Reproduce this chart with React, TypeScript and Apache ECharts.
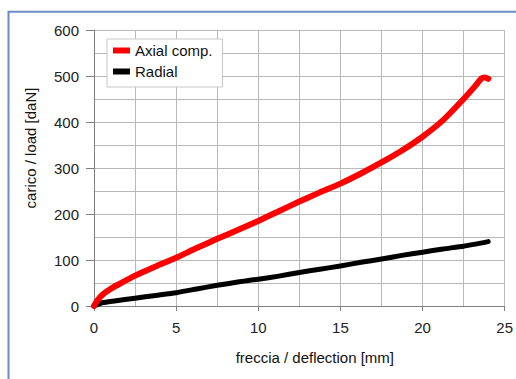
import React, { useEffect, useRef } from "react";
import * as echarts from "echarts";

const seriesNames = ["Axial comp.", "Radial"];
const axialX = [0, 0.2, 0.5, 1, 1.5, 2.5, 3.75, 5, 6.25, 7.5, 8.75, 10, 11.25, 12.5, 13.75, 15, 16.25, 17.5, 18.75, 20, 21.25, 22.5, 23.2, 23.6, 23.8, 24];
const axialY = [0, 12, 24, 37, 47, 66, 86, 105, 126, 146, 165, 185, 206, 227, 247, 266, 288, 312, 338, 368, 404, 450, 478, 495, 497, 494];
const radialX = [0, 0.5, 1.25, 2.5, 3.75, 5, 6.25, 7.5, 8.75, 9.5, 10, 11.25, 12.5, 13.75, 15, 16.25, 17.5, 18.75, 20, 21.25, 22.5, 24];
const radialY = [0, 7, 11, 17, 23, 29, 37, 45, 52, 56, 58, 65, 73, 80, 87, 95, 102, 110, 117, 124, 130, 140];
const xTitle = "freccia / deflection [mm]";
const yTitle = "carico / load [daN]";

export default function App() {
  const ref = useRef<HTMLDivElement>(null);
  useEffect(() => {
    if (!ref.current) return;
    const chart = echarts.init(ref.current, undefined, { renderer: "svg" });
    const font = "'Liberation Sans', Arial, sans-serif";
    chart.setOption({
      animation: false,
      backgroundColor: "#ffffff",
      textStyle: { fontFamily: font },
      grid: { left: 94, right: 11, top: 30, bottom: 73, containLabel: false },
      legend: {
        orient: "vertical",
        left: 107,
        top: 39,
        padding: [4, 10, 8, 6],
        itemGap: 6,
        itemWidth: 17,
        itemHeight: 6,
        icon: "rect",
        backgroundColor: "#ffffff",
        borderColor: "#c8c8c8",
        borderWidth: 1,
        borderRadius: 0,
        textStyle: { fontSize: 15, color: "#111", fontFamily: font },
        data: seriesNames,
      },
      xAxis: {
        type: "value",
        min: 0,
        max: 25,
        interval: 5,
        name: xTitle,
        nameLocation: "middle",
        nameGap: 44,
        nameTextStyle: { fontSize: 15, color: "#111", fontFamily: font, padding: [0, 0, 0, 31] },
        axisLine: { show: true, lineStyle: { color: "#808080", width: 1 } },
        axisTick: { show: true, length: 5, lineStyle: { color: "#808080" } },
        axisLabel: { fontSize: 15, color: "#222", margin: 14, fontFamily: font },
        splitLine: { show: true, lineStyle: { color: "#b8b8b8", width: 1 } },
        minorTick: { show: false, splitNumber: 2 },
        minorSplitLine: { show: true, lineStyle: { color: "#b8b8b8", width: 1 } },
      },
      yAxis: {
        type: "value",
        min: 0,
        max: 600,
        interval: 100,
        axisLine: { show: true, lineStyle: { color: "#808080", width: 1 } },
        axisTick: { show: true, length: 8, lineStyle: { color: "#808080" } },
        axisLabel: { fontSize: 15, color: "#222", margin: 15, fontFamily: font },
        splitLine: { show: true, lineStyle: { color: "#b8b8b8", width: 1 } },
        minorTick: { show: false, splitNumber: 2 },
        minorSplitLine: { show: true, lineStyle: { color: "#b8b8b8", width: 1 } },
      },
      graphic: [
        {
          type: "rect",
          silent: true,
          shape: { x: 8.5, y: 11.7, width: 700, height: 600 },
          style: { fill: "none", stroke: "#6b8cc9", lineWidth: 2 },
          z: 100,
        },
        {
          type: "text",
          x: 30,
          y: 148,
          rotation: Math.PI / 2,
          style: {
            text: yTitle,
            fontSize: 15,
            fontFamily: font,
            fill: "#111",
            align: "center",
            verticalAlign: "middle",
          },
        },
      ],
      series: [
        {
          name: seriesNames[0],
          type: "line",
          data: axialX.map((x, i) => [x, axialY[i]]),
          showSymbol: false,
          smooth: 0.2,
          color: "#ff0000",
          lineStyle: { color: "#ff0000", width: 6, cap: "round", join: "round" },
          z: 3,
        },
        {
          name: seriesNames[1],
          type: "line",
          data: radialX.map((x, i) => [x, radialY[i]]),
          showSymbol: false,
          smooth: 0.2,
          color: "#000000",
          lineStyle: { color: "#000000", width: 5, cap: "round", join: "round" },
          z: 2,
        },
      ],
    });
    return () => chart.dispose();
  }, []);
  return (
    <div
      ref={ref}
      style={{ position: "fixed", left: 0, top: 0, width: 516, height: 379, background: "#fff" }}
    />
  );
}
